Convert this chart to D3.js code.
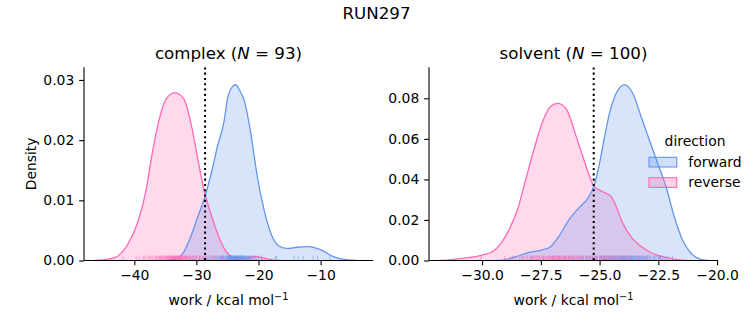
<!DOCTYPE html>
<html><head><meta charset="utf-8">
<script src="https://cdn.jsdelivr.net/npm/d3@7"></script>
<style>body{margin:0;background:#fff} svg{display:block;font-family:"DejaVu Sans",sans-serif}</style>
</head><body><svg id="c" width="753" height="325"></svg>
<script>
// ---------------- data ----------------
const suptitle = "RUN297";
const directions = ["forward", "reverse"];
const directionColors = ["#6495ED", "#FF69B4"];
const phases = ["complex", "solvent"];
const phaseN = [93, 100];

const complexXTicks = [-40, -30, -20, -10];
const complexYTicks = [0, 0.01, 0.02, 0.03];
const solventXTicks = [-30, -27.5, -25, -22.5, -20];
const solventYTicks = [0, 0.02, 0.04, 0.06, 0.08];
const complexXLim = [-48.1, -1.56];
const complexYLim = [0, 0.0321];
const solventXLim = [-32.26, -19.96];
const solventYLim = [0, 0.0953];
const complexVline = -28.6;
const solventVline = -25.25;

// density curves: [work, density]
const complexForwardKde = [[-35,0],[-33.2,0.0003],[-32,0.0015],[-30.9,0.004],[-29.8,0.0072],[-28.7,0.0104],[-27.6,0.0145],[-26.6,0.019],[-25.55,0.0231],[-25.0,0.0268],[-24.2,0.0289],[-23.7,0.0292],[-22.9,0.028],[-22.3,0.0266],[-21.25,0.0212],[-20.2,0.014],[-19.1,0.0084],[-18.0,0.0045],[-16.7,0.0024],[-15.4,0.002],[-13.8,0.0022],[-12.1,0.0023],[-10.0,0.0018],[-7.85,0.0006],[-5.7,0.0001],[-4,0]];
const complexReverseKde = [[-46.5,0],[-45,0.0001],[-43.8,0.0003],[-42.7,0.0007],[-41.1,0.0026],[-39.5,0.0062],[-38.2,0.0112],[-37.1,0.0179],[-36.0,0.0234],[-34.9,0.0268],[-33.45,0.0279],[-32.0,0.0268],[-30.9,0.0229],[-29.85,0.0173],[-28.8,0.0118],[-27.7,0.0079],[-26.6,0.0045],[-25.0,0.0012],[-23.5,0.0004],[-22,0.0004],[-20.7,0.0007],[-19.2,0.0004],[-17.5,0.00005],[-16.5,0]];
const solventForwardKde = [[-29.4,0],[-29.14,0.0002],[-28.57,0.0019],[-28.0,0.004],[-27.44,0.0052],[-27.09,0.0068],[-26.74,0.0117],[-26.31,0.02],[-25.87,0.0261],[-25.5,0.0307],[-25.24,0.0367],[-25.0,0.048],[-24.79,0.061],[-24.58,0.0726],[-24.29,0.0825],[-23.94,0.0866],[-23.59,0.0825],[-23.23,0.0709],[-22.88,0.0594],[-22.53,0.048],[-22.17,0.0364],[-21.82,0.0216],[-21.47,0.0101],[-21.11,0.0036],[-20.69,0.0006],[-20.34,0]];
const solventReverseKde = [[-31.8,0],[-30.83,0.0011],[-30.0,0.0027],[-29.57,0.0043],[-29.2,0.0085],[-28.86,0.015],[-28.5,0.0249],[-28.15,0.0397],[-27.8,0.0545],[-27.45,0.0677],[-27.1,0.0759],[-26.77,0.0775],[-26.39,0.0742],[-26.27,0.0709],[-25.99,0.061],[-25.71,0.0512],[-25.42,0.0413],[-25.24,0.0367],[-24.86,0.0339],[-24.5,0.0315],[-24.29,0.0265],[-24.01,0.0183],[-23.66,0.0117],[-23.31,0.0076],[-22.88,0.0043],[-22.32,0.0019],[-21.75,0.0006],[-21.3,0]];

// rug samples
const complexForwardRug = [-31.0,-30.2,-29.5,-28.9,-28.4,-28.0,-27.6,-27.3,-27.0,-26.8,-26.5,-26.3,-26.1,-25.9,-25.7,-25.6,-25.4,-25.3,-25.1,-25.0,-24.9,-24.8,-24.7,-24.6,-24.5,-24.4,-24.3,-24.2,-24.1,-24.0,-23.95,-23.9,-23.8,-23.7,-23.65,-23.6,-23.5,-23.4,-23.35,-23.3,-23.2,-23.1,-23.0,-22.9,-22.8,-22.7,-22.6,-22.5,-22.4,-22.3,-22.1,-22.0,-21.8,-21.6,-21.4,-21.2,-21.0,-20.7,-20.4,-20.0,-19.5,-17.3,-17.1,-14.3,-13.6,-12.8,-11.2,-10.5,-8.5,-25.8,-25.2,-24.85,-24.55,-24.25,-23.85,-23.55,-23.25,-22.95,-22.65,-22.35,-22.2,-21.9,-21.7,-21.5,-21.3,-24.65,-24.35,-23.75,-23.45,-23.15,-22.85,-22.55,-26.0];
const complexReverseRug = [-41.8,-39.7,-39.2,-38.6,-38.1,-37.7,-37.3,-37.0,-36.7,-36.4,-36.2,-36.0,-35.8,-35.6,-35.4,-35.2,-35.0,-34.9,-34.7,-34.6,-34.4,-34.3,-34.1,-34.0,-33.9,-33.8,-33.7,-33.6,-33.5,-33.4,-33.3,-33.2,-33.1,-33.0,-32.9,-32.8,-32.7,-32.6,-32.5,-32.4,-32.3,-32.2,-32.1,-31.9,-31.8,-31.6,-31.5,-31.3,-31.1,-30.9,-30.7,-30.5,-30.2,-29.9,-29.6,-29.3,-29.0,-28.6,-28.2,-27.7,-27.2,-26.6,-25.8,-20.8,-20.4,-36.5,-35.9,-35.5,-35.1,-34.8,-34.5,-34.2,-33.95,-33.85,-33.65,-33.45,-33.25,-33.05,-32.85,-32.65,-32.45,-32.25,-32.0,-31.7,-31.4,-31.0,-30.6,-30.0,-29.4,-28.8,-37.5,-38.4,-27.0];
const solventForwardRug = [-28.3,-27.9,-27.4,-27.0,-26.7,-26.5,-26.3,-26.1,-26.0,-25.9,-25.8,-25.7,-25.6,-25.5,-25.4,-25.3,-25.2,-25.1,-25.0,-24.95,-24.9,-24.85,-24.8,-24.75,-24.7,-24.65,-24.6,-24.55,-24.5,-24.45,-24.4,-24.35,-24.3,-24.25,-24.2,-24.15,-24.1,-24.05,-24.0,-23.95,-23.9,-23.85,-23.8,-23.75,-23.7,-23.65,-23.6,-23.55,-23.5,-23.45,-23.4,-23.35,-23.3,-23.25,-23.2,-23.15,-23.1,-23.05,-23.0,-22.95,-22.9,-22.8,-22.7,-22.6,-22.5,-22.4,-22.3,-22.2,-22.1,-21.9,-26.2,-25.75,-25.45,-25.15,-24.92,-24.72,-24.52,-24.32,-24.12,-23.92,-24.02,-23.98,-23.88,-23.82,-23.72,-23.62,-23.52,-23.42,-23.32,-23.22,-23.12,-24.22,-24.42,-24.62,-24.82,-22.85,-22.65,-22.45,-23.68,-24.08];
const solventReverseRug = [-30.05,-29.05,-28.8,-28.6,-28.4,-28.2,-28.05,-27.9,-27.8,-27.7,-27.6,-27.5,-27.4,-27.3,-27.25,-27.2,-27.15,-27.1,-27.05,-27.0,-26.95,-26.9,-26.85,-26.8,-26.75,-26.7,-26.65,-26.6,-26.55,-26.5,-26.45,-26.4,-26.35,-26.3,-26.25,-26.2,-26.1,-26.0,-25.9,-25.8,-25.7,-25.6,-25.5,-25.4,-25.3,-25.2,-25.1,-25.0,-24.9,-24.8,-24.7,-24.6,-24.5,-24.4,-24.3,-24.1,-23.9,-23.7,-23.4,-23.0,-22.4,-28.7,-28.3,-28.1,-27.95,-27.85,-27.75,-27.65,-27.55,-27.45,-27.35,-27.22,-27.12,-27.02,-26.92,-26.82,-26.72,-26.62,-26.52,-26.42,-26.32,-26.15,-26.05,-25.95,-25.85,-25.75,-25.55,-25.35,-25.15,-24.95,-24.85,-24.75,-24.65,-24.55,-24.35,-24.2,-24.0,-23.8,-26.88,-26.78];

// ---------------- drawing ----------------
const svg = d3.select("#c");
const FS = 13.9, TFS = 16.67;
const plotTop = 67.3, plotBottom = 260.5, pw = 289;
const tick = 4.86;

svg.append("text").attr("x", 376.5).attr("y", 19).attr("text-anchor", "middle")
  .attr("font-size", TFS).text(suptitle);

const panels = [
  {name: phases[0], n: phaseN[0], left: 84, xlim: complexXLim, ylim: complexYLim, xt: complexXTicks, yt: complexYTicks,
   xfmt: d3.format(".0f"), yfmt: d3.format(".2f"), vline: complexVline,
   kde: [complexForwardKde, complexReverseKde], rug: [complexForwardRug, complexReverseRug], ylabel: true, legend: false},
  {name: phases[1], n: phaseN[1], left: 429, xlim: solventXLim, ylim: solventYLim, xt: solventXTicks, yt: solventYTicks,
   xfmt: d3.format(".1f"), yfmt: d3.format(".2f"), vline: solventVline,
   kde: [solventForwardKde, solventReverseKde], rug: [solventForwardRug, solventReverseRug], ylabel: false, legend: true}
];

panels.forEach((p, pi) => {
  const x = d3.scaleLinear().domain(p.xlim).range([p.left, p.left + pw]);
  const y = d3.scaleLinear().domain(p.ylim).range([plotBottom, plotTop]);
  const g = svg.append("g");
  const clipId = "clip" + pi;
  svg.append("clipPath").attr("id", clipId).append("rect")
    .attr("x", p.left).attr("y", plotTop).attr("width", pw).attr("height", plotBottom - plotTop);
  const plot = g.append("g").attr("clip-path", `url(#${clipId})`);

  const area = d3.area().x(d => x(d[0])).y0(y(0)).y1(d => y(d[1])).curve(d3.curveMonotoneX);
  const line = d3.line().x(d => x(d[0])).y(d => y(d[1])).curve(d3.curveMonotoneX);

  [1, 0].forEach(k => {
    plot.append("path").attr("d", area(p.kde[k])).attr("fill", directionColors[k]).attr("fill-opacity", 0.25);
  });
  [1, 0].forEach(k => {
    plot.append("path").attr("d", line(p.kde[k])).attr("fill", "none")
      .attr("stroke", directionColors[k]).attr("stroke-width", 1.3);
  });
  // rug
  [0, 1].forEach(k => {
    plot.append("g").selectAll("line").data(p.rug[k]).join("line")
      .attr("x1", d => x(d)).attr("x2", d => x(d))
      .attr("y1", y(0)).attr("y2", y(0) - 4.85)
      .attr("stroke", directionColors[k]).attr("stroke-width", 1).attr("stroke-opacity", 0.55);
  });
  // dotted vertical line
  plot.append("line").attr("x1", x(p.vline)).attr("x2", x(p.vline))
    .attr("y1", plotTop).attr("y2", plotBottom)
    .attr("stroke", "#000").attr("stroke-width", 2).attr("stroke-dasharray", "2.1,3.2");

  // axes
  const xa = g.append("g").attr("transform", `translate(0,${plotBottom})`)
    .call(d3.axisBottom(x).tickValues(p.xt).tickFormat(p.xfmt).tickSize(tick).tickPadding(tick).tickSizeOuter(0));
  const ya = g.append("g").attr("transform", `translate(${p.left},0)`)
    .call(d3.axisLeft(y).tickValues(p.yt).tickFormat(p.yfmt).tickSize(tick).tickPadding(tick).tickSizeOuter(0));
  [xa, ya].forEach(a => {
    a.attr("font-size", FS).attr("font-family", '"DejaVu Sans",sans-serif');
    a.selectAll("path.domain").attr("stroke", "#000").attr("stroke-width", 1.1);
    a.selectAll(".tick line").attr("stroke", "#000").attr("stroke-width", 1.1);
    a.selectAll(".tick text").attr("fill", "#000");
  });
  ya.select("path.domain").attr("d", `M0,${plotBottom}V${plotTop}`);
  xa.select("path.domain").attr("d", `M${p.left},0H${p.left + pw}`);

  // x label
  const xl = g.append("text").attr("x", p.left + pw / 2).attr("y", 305).attr("text-anchor", "middle").attr("font-size", FS);
  xl.append("tspan").text("work / kcal mol");
  xl.append("tspan").attr("font-size", FS * 0.7).attr("dy", -5.5).text("−1");

  // title
  const t = g.append("text").attr("x", p.left + pw / 2).attr("y", 59).attr("text-anchor", "middle").attr("font-size", TFS);
  t.append("tspan").text(p.name + " (");
  t.append("tspan").attr("font-style", "italic").text("N");
  t.append("tspan").text(" = " + p.n + ")");

  if (p.ylabel) {
    g.append("text").attr("transform", `translate(36,${(plotTop + plotBottom) / 2}) rotate(-90)`)
      .attr("text-anchor", "middle").attr("font-size", FS).text("Density");
  }

  if (p.legend) {
    const lg = svg.append("g");
    lg.append("text").attr("x", 695).attr("y", 146).attr("text-anchor", "middle").attr("font-size", FS).text("direction");
    directions.forEach((d, k) => {
      const yy = 157.3 + k * 20.4;
      lg.append("rect").attr("x", 649).attr("y", yy).attr("width", 27.8).attr("height", 9.7)
        .attr("fill", directionColors[k]).attr("fill-opacity", 0.3)
        .attr("stroke", directionColors[k]).attr("stroke-width", 1.1);
      lg.append("text").attr("x", 688.3).attr("y", yy + 9.6).attr("font-size", FS).text(d);
    });
  }
});
</script>
</body></html>
